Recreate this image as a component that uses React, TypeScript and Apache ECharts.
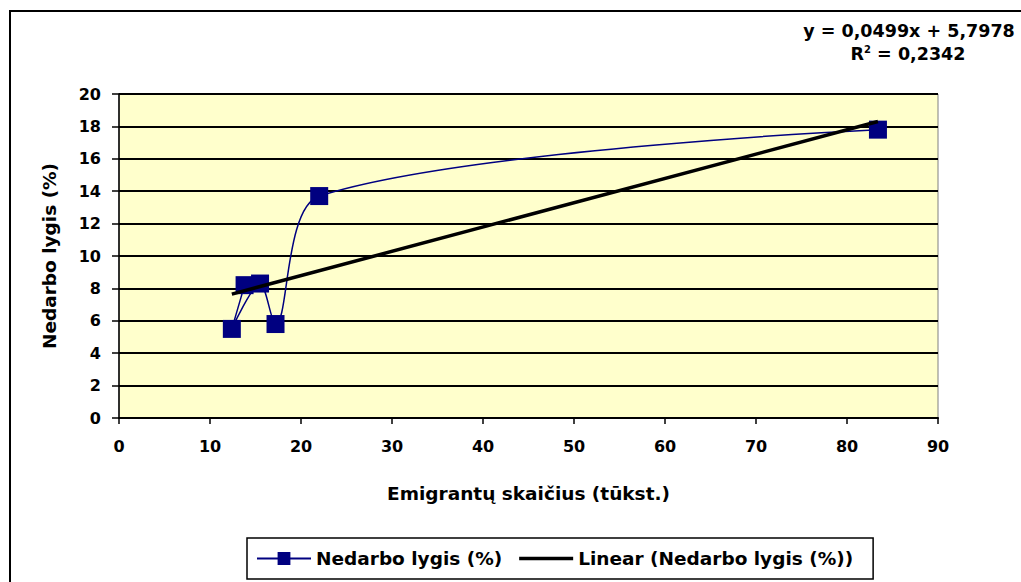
import React, { useEffect, useRef } from "react";
import * as echarts from "echarts";

// Data (emigrants, thousands -> unemployment rate %)
const emigrants = [83.4, 22.0, 17.2, 15.5, 12.4, 13.8];
const unemployment = [17.8, 13.7, 5.8, 8.3, 5.5, 8.2];
// Linear trendline endpoints as drawn in the reference
const trendX = [12.4, 83.4];
const trendY = [7.65, 18.3];

const seriesName = "Nedarbo lygis (%)";
const trendName = "Linear (Nedarbo lygis (%))";
const xTitle = "Emigrantų skaičius (tūkst.)";
const yTitle = "Nedarbo lygis (%)";
const eqLine1 = "y = 0,0499x + 5,7978";
const eqR2 = "0,2342";

const FONT = "DejaVu Sans";

export default function App() {
  const ref = useRef<HTMLDivElement>(null);
  useEffect(() => {
    if (!ref.current) return;
    const chart = echarts.init(ref.current, null, { renderer: "svg" });
    chart.setOption({
      animation: false,
      backgroundColor: "#ffffff",
      grid: {
        left: 119,
        top: 94,
        width: 819,
        height: 324,
        show: true,
        backgroundColor: "#FFFFCC",
        borderColor: "#808080",
        borderWidth: 1,
      },
      xAxis: {
        type: "value",
        min: 0,
        max: 90,
        interval: 10,
        name: xTitle,
        nameLocation: "middle",
        nameGap: 66,
        nameTextStyle: { fontFamily: FONT, fontWeight: "bold", fontSize: 18.5, color: "#000" },
        axisLine: { show: true, onZero: false, lineStyle: { color: "#000", width: 2 } },
        axisTick: { show: true, length: 6, lineStyle: { color: "#000", width: 1.5 } },
        axisLabel: { margin: 20, fontFamily: FONT, fontWeight: "bold", fontSize: 16, color: "#000" },
        splitLine: { show: false },
      },
      yAxis: {
        type: "value",
        min: 0,
        max: 20,
        interval: 2,
        name: yTitle,
        nameLocation: "middle",
        nameGap: 60,
        nameRotate: 90,
        nameTextStyle: { fontFamily: FONT, fontWeight: "bold", fontSize: 18.5, color: "#000" },
        axisLine: { show: true, onZero: false, lineStyle: { color: "#000", width: 1.5 } },
        axisTick: { show: true, length: 7, lineStyle: { color: "#000", width: 1.5 } },
        axisLabel: { margin: 18, fontFamily: FONT, fontWeight: "bold", fontSize: 16, color: "#000" },
        splitLine: { show: true, lineStyle: { color: "#000", width: 2 } },
      },
      legend: {
        left: 247,
        top: 538,
        padding: [11, 20, 11, 9],
        itemGap: 17,
        itemWidth: 54,
        itemHeight: 16,
        borderColor: "#000",
        borderWidth: 1.5,
        backgroundColor: "#fff",
        textStyle: { fontFamily: FONT, fontWeight: "bold", fontSize: 18.5, color: "#000" },
        data: [
          { name: seriesName },
          { name: trendName, icon: "path://M0,0H54V3.5H0Z", itemStyle: { color: "#000" } },
        ],
      },
      graphic: [
        {
          type: "rect",
          silent: true,
          shape: { x: 10, y: 11, width: 1100, height: 700 },
          style: { fill: "none", stroke: "#000", lineWidth: 2 },
          z: -10,
        },
        {
          type: "text",
          x: 909,
          y: 31,
          style: {
            text: eqLine1,
            fontFamily: FONT,
            fontWeight: "bold",
            fontSize: 17.5,
            fill: "#000",
            align: "center",
            verticalAlign: "middle",
          },
        },
        {
          type: "text",
          x: 908,
          y: 54,
          style: {
            text: "R{sup|2} = " + eqR2,
            fontFamily: FONT,
            fontWeight: "bold",
            fontSize: 17.5,
            fill: "#000",
            align: "center",
            verticalAlign: "middle",
            rich: {
              sup: {
                fontFamily: FONT,
                fontWeight: "bold",
                fontSize: 10,
                fill: "#000",
                verticalAlign: "top",
                padding: [0, 0, 10, 0],
              },
            },
          },
        },
      ],
      series: [
        {
          name: seriesName,
          type: "line",
          smooth: 0.3,
          data: emigrants.map((x, i) => [x, unemployment[i]]),
          symbol: "rect",
          symbolSize: 18,
          itemStyle: { color: "#000080" },
          lineStyle: { color: "#000080", width: 1.5 },
          z: 3,
        },
        {
          name: trendName,
          type: "line",
          data: trendX.map((x, i) => [x, trendY[i]]),
          symbol: "none",
          itemStyle: { color: "#000" },
          lineStyle: { color: "#000", width: 3.5 },
          z: 4,
        },
      ],
    });
    return () => chart.dispose();
  }, []);
  return (
    <div
      ref={ref}
      style={{ position: "absolute", left: 0, top: 0, width: 1021, height: 582 }}
    />
  );
}
